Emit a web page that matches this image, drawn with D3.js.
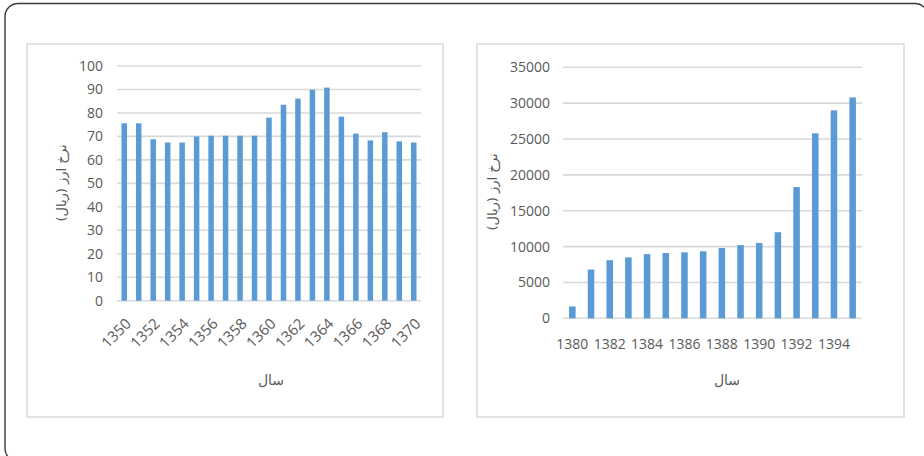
<!DOCTYPE html>
<html>
<head>
<meta charset="utf-8">
<script src="https://cdn.jsdelivr.net/npm/d3@7"></script>
<style>
  html, body { margin: 0; padding: 0; background: #fff; }
  svg { display: block; }
  .tick text { font-family: "Open Sans", "Liberation Sans", sans-serif; fill: #595959; }
  .fa { font-family: "DejaVu Sans", sans-serif; fill: #595959; }
</style>
</head>
<body>
<svg id="chart" width="924" height="456"></svg>
<script>
// Exchange rate, 1350–1370
const yearsA = d3.range(1350, 1371);
const ratesA = [75.6, 75.6, 68.8, 67.4, 67.4, 70.0, 70.3, 70.3, 70.3, 70.3, 78.0,
                83.5, 86.1, 89.9, 90.8, 78.4, 71.2, 68.3, 71.8, 67.9, 67.4];
const ticksA = [0, 10, 20, 30, 40, 50, 60, 70, 80, 90, 100];
const labelsA = [1350, 1352, 1354, 1356, 1358, 1360, 1362, 1364, 1366, 1368, 1370];

// Exchange rate, 1380–1395
const yearsB = d3.range(1380, 1396);
const ratesB = [1650, 6800, 8100, 8500, 8950, 9100, 9200, 9350, 9800, 10200, 10500,
                12000, 18300, 25800, 29000, 30800];
const ticksB = [0, 5000, 10000, 15000, 20000, 25000, 30000, 35000];
const labelsB = [1380, 1382, 1384, 1386, 1388, 1390, 1392, 1394];

const yTitle = "نرخ ارز (ریال)";
const xTitle = "سال";

const svg = d3.select("#chart");
const barColor = "#5b9bd5";
const gridColor = "#d9d9d9";

// outer rounded frame
svg.append("rect")
  .attr("x", 5).attr("y", 3.5).attr("width", 923).attr("height", 458)
  .attr("rx", 13).attr("fill", "none")
  .attr("stroke", "#3a3a3a").attr("stroke-width", 1.4);

function panel(cfg) {
  const g = svg.append("g");
  g.append("rect")
    .attr("x", cfg.box[0]).attr("y", cfg.box[1])
    .attr("width", cfg.box[2]).attr("height", cfg.box[3])
    .attr("fill", "#fff").attr("stroke", gridColor).attr("stroke-width", 1.5);

  const x = d3.scaleBand().domain(cfg.years).range(cfg.xr)
    .paddingInner(cfg.pad).paddingOuter(cfg.pad / 2);
  const y = d3.scaleLinear().domain([0, cfg.ticks[cfg.ticks.length - 1]]).range(cfg.yr);

  // gridlines
  g.append("g").selectAll("line").data(cfg.ticks).join("line")
    .attr("x1", cfg.xr[0]).attr("x2", cfg.xr[1])
    .attr("y1", d => y(d)).attr("y2", d => y(d))
    .attr("stroke", gridColor).attr("stroke-width", 1.6);

  // y axis labels
  const ya = g.append("g").attr("transform", `translate(${cfg.yLabelX},0)`)
    .call(d3.axisLeft(y).tickValues(cfg.ticks).tickSize(0).tickPadding(0).tickFormat(d3.format("d")));
  ya.select(".domain").remove();
  ya.selectAll("text").style("font-size", "14px");

  // bars
  g.append("g").selectAll("rect").data(cfg.years).join("rect")
    .attr("x", d => x(d)).attr("width", x.bandwidth())
    .attr("y", (d, i) => y(cfg.values[i]))
    .attr("height", (d, i) => y(0) - y(cfg.values[i]))
    .attr("fill", barColor);

  // x axis labels
  const xa = g.append("g").attr("transform", `translate(0,${cfg.xLabelY})`)
    .call(d3.axisBottom(x).tickValues(cfg.labels).tickSize(0).tickPadding(0));
  xa.select(".domain").remove();
  if (cfg.rotate) {
    xa.selectAll("text")
      .style("font-size", "15px")
      .attr("text-anchor", "end")
      .attr("dy", "0.35em")
      .attr("transform", "translate(4,0) rotate(-45)");
  } else {
    xa.selectAll("text").style("font-size", "14px").attr("dy", "0.71em");
  }

  // axis titles
  g.append("text").attr("class", "fa")
    .attr("x", cfg.xTitlePos[0]).attr("y", cfg.xTitlePos[1])
    .attr("text-anchor", "middle").attr("dominant-baseline", "middle")
    .style("font-size", "14px").text(xTitle);
  g.append("text").attr("class", "fa")
    .attr("transform", `translate(${cfg.yTitlePos[0]},${cfg.yTitlePos[1]}) rotate(-90)`)
    .attr("text-anchor", "middle").attr("dominant-baseline", "middle")
    .attr("direction", "rtl")
    .style("font-size", "13px").text(yTitle);
}

panel({
  box: [27, 44, 416, 373],
  years: yearsA, values: ratesA, ticks: ticksA, labels: labelsA,
  xr: [117, 421], yr: [300.7, 66], pad: 0.62,
  yLabelX: 103, xLabelY: 321, rotate: true,
  xTitlePos: [271, 381], yTitlePos: [62, 183]
});

panel({
  box: [477, 44, 427, 373],
  years: yearsB, values: ratesB, ticks: ticksB, labels: labelsB,
  xr: [563, 862], yr: [318.3, 67.3], pad: 0.65,
  yLabelX: 550, xLabelY: 339, rotate: false,
  xTitlePos: [727, 381], yTitlePos: [493, 192]
});
</script>
</body>
</html>
